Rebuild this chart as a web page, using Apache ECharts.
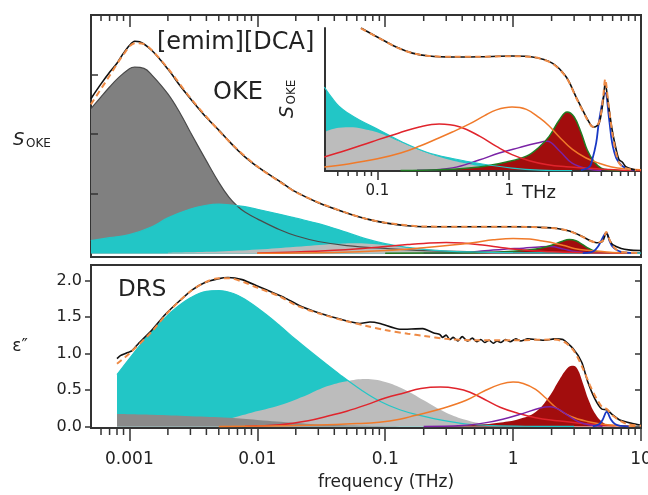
<!DOCTYPE html>
<html>
<head>
<meta charset="utf-8">
<script src="https://cdn.jsdelivr.net/npm/echarts@6/dist/echarts.min.js"></script>
<style>
html, body { margin: 0; background: #fff; }
#chart { width: 648px; height: 495px; }
</style>
</head>
<body>
<div id="chart"></div>
<script>
const FONT = '"DejaVu Sans", sans-serif';
const frame = '#333';
const colors = {
    cyan: '#22c6c6', gray: '#808080', grayLine: '#4a4a4a', light: '#bcbcbc',
    red: '#e0242c', orange: '#f07a2a', purple: '#7b23a6', darkRed: '#a20d0d',
    green: '#1f7d22', blue: '#1838c4', data: '#111111', fit: '#ee8a45',
};

// frequency range (THz)
const xMin = 0.000501, xMax = 10;
const insetMin = 0.04, insetMax = 10;
const drsTicks = [0, 0.5, 1, 1.5, 2];
const drsTickLabels = [0.001, 0.01, 0.1, 1, 10];
const insetTickLabels = [0.1, 1];

// ---- OKE, main panel ([freq, S_OKE]) ----
const okeData = [[0.0005,0.649],[0.0006,0.711],[0.0007,0.760],[0.0008,0.798],[0.0009,0.840],[0.001,0.872],[0.0011,0.890],[0.0012,0.888],[0.0015,0.851],[0.002,0.773],[0.0025,0.702],[0.003,0.649],[0.004,0.570],[0.005,0.517],[0.006,0.471],[0.007,0.434],[0.008,0.405],[0.01,0.364],[0.015,0.302],[0.02,0.258],[0.03,0.213],[0.05,0.170],[0.07,0.146],[0.1,0.128],[0.15,0.116],[0.2,0.112],[0.5,0.112],[1,0.112],[2,0.107],[2.5,0.099],[3,0.087],[3.5,0.070],[4,0.054],[4.5,0.045],[5,0.050],[5.35,0.085],[5.7,0.055],[6,0.037],[7,0.021],[8,0.015],[10,0.012]];
const okeFit = [[0.0005,0.625],[0.0007,0.745],[0.0009,0.835],[0.0011,0.882],[0.0013,0.878],[0.0015,0.852],[0.002,0.776],[0.003,0.652],[0.005,0.515],[0.007,0.436],[0.01,0.365],[0.015,0.300],[0.02,0.257],[0.03,0.214],[0.05,0.170],[0.07,0.146],[0.1,0.129],[0.2,0.113],[0.5,0.112],[1,0.112],[2,0.107],[2.5,0.099],[3,0.086],[3.5,0.069],[4,0.053],[4.5,0.046],[5,0.052],[5.35,0.090],[5.7,0.055],[6,0.032],[6.5,0.014],[7,0.007],[8,0.003],[10,0.001]];
const okeGray = [[0.0005,0.607],[0.0006,0.657],[0.0007,0.698],[0.0008,0.731],[0.001,0.775],[0.0011,0.781],[0.0013,0.776],[0.0015,0.748],[0.002,0.669],[0.0025,0.587],[0.003,0.508],[0.004,0.388],[0.005,0.298],[0.006,0.236],[0.007,0.198],[0.008,0.174],[0.01,0.145],[0.015,0.099],[0.02,0.074],[0.03,0.050],[0.05,0.033],[0.1,0.021],[0.2,0.012],[0.5,0.007],[1,0.004],[10,0.002]];
const okeCyan = [[0.0005,0.054],[0.0007,0.066],[0.001,0.079],[0.0015,0.112],[0.002,0.149],[0.003,0.186],[0.004,0.202],[0.005,0.207],[0.006,0.204],[0.008,0.196],[0.01,0.185],[0.015,0.164],[0.02,0.148],[0.03,0.125],[0.05,0.088],[0.07,0.062],[0.1,0.041],[0.15,0.025],[0.2,0.017],[0.3,0.010],[0.5,0.006],[1,0.003],[10,0.001]];
const okeLight = [[0.002,0.003],[0.005,0.008],[0.01,0.016],[0.02,0.028],[0.04,0.040],[0.06,0.043],[0.08,0.040],[0.12,0.031],[0.2,0.020],[0.3,0.013],[0.5,0.007],[1,0.003],[2,0.001]];
const okeRed = [[0.01,0.002],[0.02,0.006],[0.04,0.013],[0.07,0.022],[0.1,0.029],[0.15,0.037],[0.2,0.042],[0.3,0.046],[0.4,0.044],[0.6,0.034],[0.8,0.025],[1.1,0.016],[1.5,0.010],[2,0.007],[3,0.004],[5,0.002],[8,0.001]];
const okeOrange = [[0.01,0.001],[0.04,0.004],[0.1,0.012],[0.2,0.024],[0.35,0.036],[0.5,0.046],[0.7,0.057],[1.0,0.063],[1.35,0.061],[1.7,0.052],[2.1,0.043],[2.5,0.033],[3,0.021],[3.8,0.013],[5,0.008],[6,0.004],[8,0.002]];
const okePurple = [[0.2,0.001],[0.4,0.004],[0.6,0.011],[0.85,0.018],[1.2,0.022],[1.6,0.027],[1.95,0.029],[2.5,0.018],[3,0.008],[4,0.002],[5,0.001]];
const okeDarkRed = [[0.1,0.001],[0.3,0.002],[0.6,0.004],[1,0.009],[1.35,0.015],[1.7,0.024],[2,0.034],[2.4,0.050],[2.75,0.058],[3.1,0.053],[3.5,0.037],[3.9,0.021],[4.4,0.009],[5,0.003],[5.7,0.001]];
const okeBlue = [[3.5,0.001],[4,0.004],[4.3,0.011],[4.6,0.028],[4.85,0.050],[5.35,0.086],[5.7,0.050],[6,0.028],[6.5,0.013],[7.1,0.006],[7.7,0.003],[9,0.001]];

// ---- OKE, inset ----
const insetData = [[0.075,0.917],[0.103,0.853],[0.139,0.795],[0.184,0.756],[0.247,0.737],[0.37,0.731],[0.6,0.733],[1.05,0.737],[1.5,0.731],[2.12,0.692],[2.71,0.603],[3.22,0.474],[3.84,0.346],[4.2,0.290],[4.42,0.282],[4.82,0.308],[5.17,0.455],[5.35,0.564],[5.64,0.436],[6.04,0.263],[6.49,0.135],[6.83,0.071],[7.2,0.058],[7.72,0.026],[9.2,0.006]];
const insetFit = [[0.075,0.915],[0.103,0.852],[0.139,0.794],[0.184,0.756],[0.247,0.738],[0.37,0.732],[0.6,0.733],[1.05,0.736],[1.5,0.731],[2.12,0.690],[2.71,0.600],[3.22,0.470],[3.84,0.342],[4.2,0.288],[4.42,0.284],[4.82,0.315],[5.17,0.480],[5.35,0.590],[5.64,0.440],[6.04,0.250],[6.49,0.110],[6.83,0.050],[7.5,0.020],[9.2,0.005]];
const insetCyan = [[0.0395,0.538],[0.045,0.47],[0.051,0.415],[0.06,0.37],[0.073,0.327],[0.103,0.263],[0.154,0.186],[0.234,0.122],[0.37,0.080],[0.624,0.045],[1.05,0.019],[1.7,0.006],[3,0.002]];
const insetLight = [[0.0395,0.25],[0.051,0.278],[0.065,0.281],[0.08,0.268],[0.103,0.244],[0.146,0.190],[0.208,0.135],[0.31,0.085],[0.472,0.048],[0.624,0.030],[1.05,0.013],[1.7,0.006],[3,0.002]];
const insetRed = [[0.0395,0.09],[0.058,0.133],[0.091,0.188],[0.146,0.244],[0.208,0.282],[0.294,0.301],[0.418,0.284],[0.6,0.222],[0.8,0.158],[1.05,0.105],[1.42,0.066],[1.91,0.042],[2.71,0.027],[4.05,0.017],[6.8,0.006],[10,0.002]];
const insetOrange = [[0.0395,0.026],[0.06,0.045],[0.1,0.078],[0.15,0.115],[0.21,0.160],[0.28,0.205],[0.37,0.250],[0.5,0.302],[0.65,0.355],[0.8,0.392],[1.05,0.410],[1.35,0.395],[1.7,0.340],[2.0,0.290],[2.4,0.218],[3.0,0.140],[3.8,0.085],[4.8,0.050],[6,0.026],[8,0.013],[10,0.008]];
const insetPurple = [[0.2,0.005],[0.37,0.02],[0.59,0.07],[0.84,0.115],[1.19,0.150],[1.6,0.178],[1.94,0.19],[2.4,0.13],[3,0.05],[4,0.012],[5,0.003]];
const insetDarkRed = [[0.15,0.003],[0.3,0.008],[0.59,0.026],[0.95,0.058],[1.35,0.095],[1.69,0.154],[2.01,0.222],[2.4,0.327],[2.75,0.378],[3.11,0.346],[3.52,0.244],[3.91,0.135],[4.42,0.058],[4.99,0.019],[5.74,0.006],[7,0.001]];
const insetBlue = [[3.5,0.005],[4.05,0.026],[4.26,0.07],[4.57,0.18],[4.82,0.327],[5.35,0.50],[5.74,0.327],[6.04,0.18],[6.49,0.083],[7.08,0.038],[7.72,0.019],[9,0.005]];

// ---- DRS ([freq, eps'']) ----
const drsData = [[0.0008,0.93],[0.00085,0.97],[0.00093,1.0],[0.00105,1.04],[0.00117,1.13],[0.0015,1.32],[0.0019,1.53],[0.0024,1.70],[0.0031,1.87],[0.0039,1.97],[0.0049,2.02],[0.0059,2.04],[0.0076,2.01],[0.0101,1.92],[0.0137,1.82],[0.0164,1.76],[0.0216,1.65],[0.0309,1.55],[0.0443,1.47],[0.0634,1.41],[0.0759,1.43],[0.091,1.41],[0.13,1.33],[0.197,1.34],[0.24,1.28],[0.267,1.26],[0.28,1.22],[0.3,1.25],[0.32,1.19],[0.34,1.22],[0.37,1.17],[0.4,1.23],[0.44,1.17],[0.48,1.21],[0.52,1.16],[0.56,1.19],[0.6,1.15],[0.65,1.18],[0.7,1.14],[0.75,1.17],[0.8,1.15],[0.87,1.19],[0.95,1.16],[1.05,1.20],[1.15,1.17],[1.3,1.20],[1.5,1.19],[1.8,1.18],[2.1,1.20],[2.45,1.19],[2.93,1.07],[3.44,0.88],[3.84,0.61],[4.36,0.38],[4.93,0.24],[5.4,0.23],[6.01,0.16],[6.82,0.09],[8.6,0.04],[9.8,0.02]];
const drsFit = [[0.0008,0.86],[0.001,1.0],[0.0015,1.30],[0.002,1.56],[0.003,1.85],[0.004,1.98],[0.005,2.03],[0.006,2.03],[0.008,1.97],[0.01,1.90],[0.015,1.78],[0.02,1.66],[0.03,1.55],[0.05,1.44],[0.07,1.38],[0.1,1.32],[0.15,1.27],[0.2,1.24],[0.3,1.20],[0.5,1.18],[1,1.18],[2,1.19],[2.5,1.16],[3,1.03],[3.5,0.80],[4,0.56],[4.5,0.38],[5,0.26],[5.4,0.24],[6,0.15],[7,0.07],[8,0.03],[10,0.01]];
const drsCyan = [[0.0008,0.71],[0.001,0.93],[0.0013,1.18],[0.0017,1.40],[0.0022,1.59],[0.003,1.76],[0.004,1.85],[0.005,1.86],[0.0065,1.82],[0.008,1.74],[0.011,1.57],[0.015,1.38],[0.02,1.19],[0.03,0.94],[0.045,0.70],[0.065,0.50],[0.09,0.35],[0.13,0.23],[0.19,0.15],[0.27,0.09],[0.43,0.035],[0.7,0.012],[1.5,0.003],[3,0.001]];
const drsLight = [[0.0008,0.02],[0.002,0.03],[0.004,0.06],[0.006,0.11],[0.009,0.19],[0.015,0.29],[0.025,0.44],[0.035,0.55],[0.05,0.62],[0.07,0.65],[0.1,0.61],[0.14,0.51],[0.2,0.36],[0.3,0.19],[0.43,0.09],[0.6,0.035],[0.9,0.01],[1.5,0.002]];
const drsGray = [[0.0008,0.17],[0.0015,0.16],[0.003,0.14],[0.006,0.12],[0.01,0.09],[0.02,0.05],[0.04,0.02],[0.1,0.005],[0.3,0.001]];
const drsRed = [[0.008,0.005],[0.015,0.025],[0.025,0.08],[0.037,0.15],[0.05,0.21],[0.072,0.30],[0.1,0.39],[0.14,0.46],[0.19,0.52],[0.27,0.54],[0.36,0.52],[0.46,0.47],[0.6,0.37],[0.8,0.26],[1.1,0.18],[1.5,0.12],[2.2,0.08],[3.5,0.04],[5,0.02],[8,0.008]];
const drsOrange = [[0.005,0.002],[0.01,0.006],[0.03,0.02],[0.06,0.04],[0.09,0.06],[0.13,0.10],[0.17,0.15],[0.27,0.24],[0.43,0.36],[0.6,0.49],[0.8,0.58],[1.0,0.61],[1.2,0.59],[1.5,0.51],[1.8,0.39],[2.2,0.25],[2.8,0.14],[3.8,0.07],[5.7,0.02],[9,0.005]];
const drsDarkRed = [[0.2,0.003],[0.4,0.012],[0.6,0.03],[0.8,0.055],[1.1,0.10],[1.5,0.20],[1.9,0.40],[2.3,0.64],[2.7,0.81],[2.95,0.83],[3.2,0.78],[3.5,0.60],[3.9,0.36],[4.4,0.17],[5.0,0.06],[5.7,0.015],[7,0.001]];
const drsPurple = [[0.2,0.002],[0.4,0.015],[0.6,0.05],[0.83,0.10],[1.2,0.18],[1.6,0.25],[1.95,0.27],[2.3,0.23],[2.7,0.15],[3.3,0.06],[4,0.02],[5,0.005]];
const drsBlue = [[4.2,0.003],[4.7,0.03],[5.0,0.09],[5.4,0.20],[5.8,0.10],[6.3,0.03],[7,0.008],[8,0.002]];

// log minor tick positions (2..9 x 10^n) inside an axis range
function minorTicks(lo, hi) {
    const out = [];
    for (let d = -5; d <= 1; d++) {
        for (let k = 2; k <= 9; k++) {
            const f = k * Math.pow(10, d);
            if (f > lo && f < hi) out.push(f);
        }
    }
    return out;
}

function area(data, xi, yi, color, line) {
    return {
        type: 'line', xAxisIndex: xi, yAxisIndex: yi, data, smooth: 0.4,
        symbol: 'none', silent: true,
        lineStyle: line || {width: 0},
        areaStyle: {color, opacity: 1},
    };
}

function curve(data, xi, yi, color, width, type, smooth) {
    return {
        type: 'line', xAxisIndex: xi, yAxisIndex: yi, data, smooth: smooth || 0.4,
        symbol: 'none', silent: true,
        lineStyle: {color, width: width || 1.5, type: type || 'solid'},
    };
}

// short tick marks drawn through the axis scale, going down by len px
function minorSeries(xi, yi, ticks, yRef, len) {
    return {
        type: 'custom', xAxisIndex: xi, yAxisIndex: yi, silent: true, clip: false, z: 5,
        data: ticks.map(f => [f, yRef]),
        renderItem: (params, api) => {
            const p = api.coord([api.value(0), api.value(1)]);
            return {
                type: 'line',
                shape: {x1: p[0], y1: p[1], x2: p[0], y2: p[1] + len},
                style: {stroke: frame, lineWidth: 1.5},
            };
        },
    };
}

const noSplit = {show: false};
const tickStyle = {color: frame, width: 1.5};
const labelFmt = list => v => {
    const s = +(+v).toPrecision(3);
    return list.includes(s) ? String(s) : '';
};

function text(x, y, str, font, align, extra) {
    return Object.assign({
        type: 'text', x, y,
        style: {text: str, font: font + ' ' + FONT, fill: '#222',
            textAlign: align, textVerticalAlign: 'middle', align, verticalAlign: 'middle'},
    }, extra || {});
}

const chart = echarts.init(document.getElementById('chart'), null, {renderer: 'canvas'});

chart.setOption({
    animation: false,
    grid: [
        {left: 91, top: 15, width: 550, height: 242, show: true, borderColor: frame, borderWidth: 2, outerBoundsMode: 'none'},
        {left: 91, top: 265, width: 550, height: 163, show: true, borderColor: frame, borderWidth: 2, outerBoundsMode: 'none'},
        {left: 325, top: 28, width: 316, height: 143, show: false, outerBoundsMode: 'none'},
    ],
    xAxis: [
        {gridIndex: 0, type: 'log', position: 'top', min: xMin, max: xMax, z: 3,
            axisLine: {show: false, onZero: false}, axisTick: {inside: true, length: 12, lineStyle: tickStyle},
            axisLabel: {show: false}, splitLine: noSplit},
        {gridIndex: 1, type: 'log', min: xMin, max: xMax, z: 3,
            axisLine: {show: false, onZero: false}, axisTick: {length: 13, lineStyle: tickStyle},
            axisLabel: {formatter: labelFmt(drsTickLabels), margin: 23, fontSize: 17, fontFamily: FONT, color: '#222',
                showMinLabel: false},
            splitLine: noSplit},
        {gridIndex: 2, type: 'log', min: insetMin, max: insetMax, z: 3,
            axisLine: {show: true, onZero: false, lineStyle: {color: frame, width: 2}},
            axisTick: {length: 9, lineStyle: tickStyle},
            axisLabel: {formatter: labelFmt(insetTickLabels), margin: 13, fontSize: 15, fontFamily: FONT, color: '#222',
                showMinLabel: false, showMaxLabel: false},
            splitLine: noSplit},
    ],
    yAxis: [
        {gridIndex: 0, type: 'value', min: -0.015, max: 1, z: 3, axisLine: {show: false},
            axisTick: {show: true, inside: true, length: 7, customValues: [0.25, 0.5, 0.75], lineStyle: tickStyle},
            axisLabel: {show: false}, splitLine: noSplit},
        {gridIndex: 1, type: 'value', min: -0.02, max: 2.21, z: 3, axisLine: {show: false},
            axisTick: {show: true, length: 6, customValues: drsTicks, lineStyle: tickStyle},
            axisLabel: {customValues: drsTicks, formatter: v => v.toFixed(1), margin: 9, fontSize: 16,
                fontFamily: FONT, color: '#222'},
            splitLine: noSplit},
        {gridIndex: 1, type: 'value', position: 'right', min: -0.02, max: 2.21, z: 3, axisLine: {show: false},
            axisTick: {show: true, inside: true, length: 6, customValues: drsTicks, lineStyle: tickStyle},
            axisLabel: {show: false}, splitLine: noSplit},
        {gridIndex: 2, type: 'value', min: 0, max: 0.917, z: 3,
            axisLine: {show: true, onZero: false, lineStyle: {color: frame, width: 2}},
            axisTick: {show: false}, axisLabel: {show: false}, splitLine: noSplit},
    ],
    series: [
        // OKE main
        area(okeGray, 0, 0, colors.gray),
        area(okeCyan, 0, 0, colors.cyan),
        area(okeLight, 0, 0, colors.light),
        curve(okePurple, 0, 0, colors.purple),
        area(okeDarkRed, 0, 0, colors.darkRed, {color: colors.green, width: 1.5}),
        curve(okeGray, 0, 0, colors.grayLine, 1.2),
        curve(okeCyan, 0, 0, colors.cyan, 1.2),
        curve(okeRed, 0, 0, colors.red),
        curve(okeOrange, 0, 0, colors.orange),
        curve(okeBlue, 0, 0, colors.blue, 1.8),
        curve(okeData, 0, 0, colors.data, 1.6, 'solid', 0.3),
        curve(okeFit, 0, 0, colors.fit, 2, [6, 4], 0.3),

        // OKE inset
        area(insetCyan, 2, 3, colors.cyan),
        area(insetLight, 2, 3, colors.light),
        curve(insetPurple, 2, 3, colors.purple),
        area(insetDarkRed, 2, 3, colors.darkRed, {color: colors.green, width: 1.5}),
        curve(insetCyan, 2, 3, colors.cyan, 1.2),
        curve(insetRed, 2, 3, colors.red),
        curve(insetOrange, 2, 3, colors.orange),
        curve(insetBlue, 2, 3, colors.blue, 1.8),
        curve(insetData, 2, 3, colors.data, 1.6, 'solid', 0.3),
        curve(insetFit, 2, 3, colors.fit, 2, [6, 4], 0.3),

        // DRS
        area(drsCyan, 1, 1, colors.cyan),
        area(drsLight, 1, 1, colors.light),
        area(drsGray, 1, 1, '#8a8a8a'),
        area(drsDarkRed, 1, 1, colors.darkRed),
        curve(drsCyan, 1, 1, colors.cyan, 1.2),
        curve(drsRed, 1, 1, colors.red),
        curve(drsOrange, 1, 1, colors.orange),
        curve(drsPurple, 1, 1, colors.purple),
        curve(drsBlue, 1, 1, colors.blue, 1.8),
        curve(drsData, 1, 1, colors.data, 1.6, 'solid', 0.2),
        curve(drsFit, 1, 1, colors.fit, 2, [6, 4], 0.3),

        // minor log ticks
        minorSeries(0, 0, minorTicks(xMin, xMax), 1, 6),
        minorSeries(1, 1, minorTicks(xMin, xMax), -0.02, 7),
        minorSeries(2, 3, minorTicks(insetMin, insetMax), 0, 5),
    ],
    graphic: [
        text(157, 43, '[emim][DCA]', '24px', 'left'),
        text(213, 93, 'OKE', '24px', 'left'),
        text(118, 290, 'DRS', '23px', 'left'),
        text(13, 140, 'S', 'italic 18px', 'left'),
        text(26, 144, 'OKE', '12px', 'left'),
        text(288, 112, 'S', 'italic 19px', 'center', {rotation: Math.PI / 2}),
        text(292, 92, 'OKE', '12px', 'center', {rotation: Math.PI / 2}),
        text(20, 347, 'ε\u2033', '17px', 'center'),
        text(522, 193, 'THz', '18px', 'left'),
        text(386, 483, 'frequency (THz)', '17px', 'center'),
    ],
});
</script>
</body>
</html>
